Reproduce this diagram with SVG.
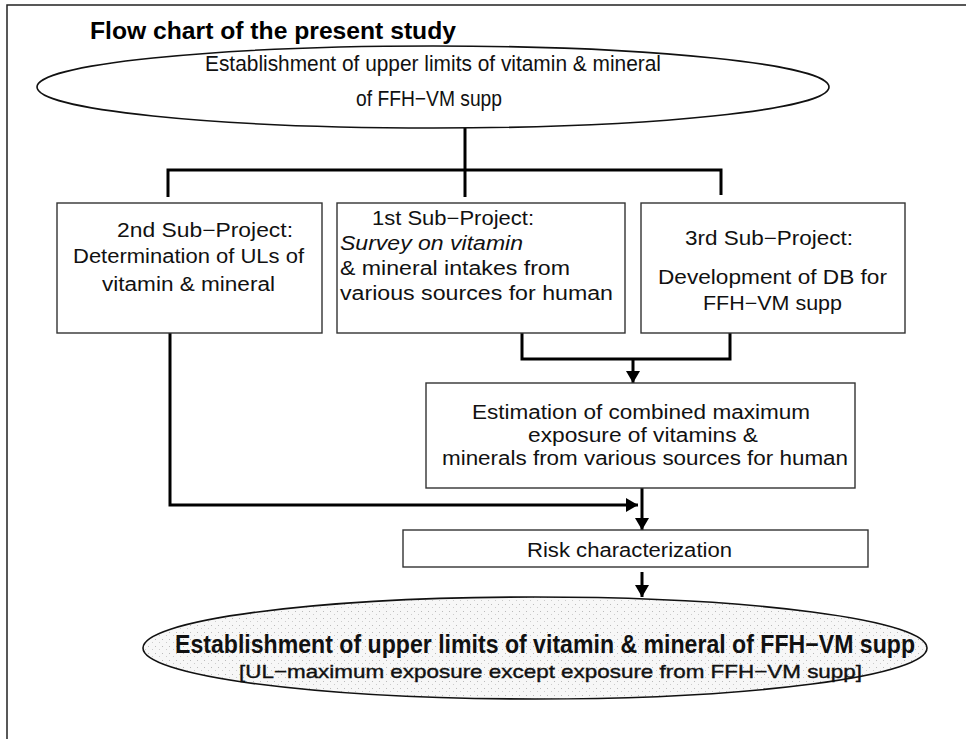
<svg xmlns="http://www.w3.org/2000/svg" width="966" height="739" viewBox="0 0 966 739">
<style>
.frame{stroke:#222;stroke-width:1.5;fill:none}
.box{fill:#fff;stroke:#333;stroke-width:1.4}
.ell{fill:#fff;stroke:#111;stroke-width:1.6}
.conn{fill:none;stroke:#000;stroke-width:3}
.t{font-family:"Liberation Sans","DejaVu Sans",Arial,sans-serif;font-size:20px;fill:#111}
.te{font-family:"Liberation Sans","DejaVu Sans",Arial,sans-serif;font-size:22px;fill:#111}
.ti{font-style:italic}
.title{font-family:"Liberation Sans","DejaVu Sans",Arial,sans-serif;font-size:23px;font-weight:bold;fill:#000}
.big{font-family:"Liberation Sans","DejaVu Sans",Arial,sans-serif;font-size:25px;font-weight:bold;fill:#111}
.sub{font-family:"Liberation Sans","DejaVu Sans",Arial,sans-serif;font-size:19px;fill:#111;stroke:#111;stroke-width:0.4}
</style>
<defs>
<marker id="ah" viewBox="0 0 12 14" refX="12" refY="7" markerWidth="12" markerHeight="14" markerUnits="userSpaceOnUse" orient="auto">
<path d="M0,0 L12,7 L0,14 Z" fill="#000"/>
</marker>
<pattern id="stip" width="7" height="7" patternUnits="userSpaceOnUse">
<rect width="7" height="7" fill="#f7f7f7"/>
<rect x="1" y="2" width="1" height="1" fill="#bbb"/>
<rect x="5" y="5" width="1" height="1" fill="#ccc"/>
</pattern>
</defs>
<g id="frame">
<path class="frame" d="M7,739 L7,5 L966,5"/>
</g>
<g id="title">
<text class="title" x="90" y="39" textLength="366" lengthAdjust="spacingAndGlyphs">Flow chart of the present study</text>
</g>
<g id="connectors">
<path class="conn" d="M465,128 L465,197"/>
<path class="conn" d="M168,197 L168,170 L721,170 L721,195"/>
<path class="conn" d="M522,333 L522,359 L730,359 L730,333"/>
<path class="conn" d="M633,359 L633,383" marker-end="url(#ah)"/>
<path class="conn" d="M170,333 L170,505 L638,505" marker-end="url(#ah)"/>
<path class="conn" d="M642,488 L642,530" marker-end="url(#ah)"/>
<path class="conn" d="M642,572 L642,597" marker-end="url(#ah)"/>
</g>
<g id="goal">
<ellipse class="ell" cx="433" cy="87" rx="396" ry="41"/>
<text class="te" x="433" y="71" text-anchor="middle" textLength="456" lengthAdjust="spacingAndGlyphs">Establishment of upper limits of vitamin &amp; mineral</text>
<text class="te" x="429" y="106" text-anchor="middle" textLength="146" lengthAdjust="spacingAndGlyphs">of FFH−VM supp</text>
</g>
<g id="sub2">
<rect class="box" x="57" y="203" width="265" height="130"/>
<text class="t" x="117" y="237" textLength="176" lengthAdjust="spacingAndGlyphs">2nd Sub−Project:</text>
<text class="t" x="73" y="263" textLength="231" lengthAdjust="spacingAndGlyphs">Determination of ULs of</text>
<text class="t" x="102" y="291" textLength="173" lengthAdjust="spacingAndGlyphs">vitamin &amp; mineral</text>
</g>
<g id="sub1">
<rect class="box" x="337" y="203" width="288" height="130"/>
<text class="t" x="372" y="225" textLength="162" lengthAdjust="spacingAndGlyphs">1st Sub−Project:</text>
<text class="t ti" x="340" y="250" textLength="183" lengthAdjust="spacingAndGlyphs">Survey on vitamin</text>
<text class="t" x="340" y="275" textLength="230" lengthAdjust="spacingAndGlyphs">&amp; mineral intakes from</text>
<text class="t" x="340" y="300" textLength="273" lengthAdjust="spacingAndGlyphs">various sources for human</text>
</g>
<g id="sub3">
<rect class="box" x="641" y="203" width="264" height="130"/>
<text class="t" x="685" y="245" textLength="168" lengthAdjust="spacingAndGlyphs">3rd Sub−Project:</text>
<text class="t" x="658" y="284" textLength="229" lengthAdjust="spacingAndGlyphs">Development of DB for</text>
<text class="t" x="703" y="310" textLength="139" lengthAdjust="spacingAndGlyphs">FFH−VM supp</text>
</g>
<g id="estimation">
<rect class="box" x="426" y="383" width="429" height="105"/>
<text class="t" x="472" y="419" textLength="338" lengthAdjust="spacingAndGlyphs">Estimation of combined maximum</text>
<text class="t" x="528" y="442" textLength="230" lengthAdjust="spacingAndGlyphs">exposure of vitamins &amp;</text>
<text class="t" x="442" y="465" textLength="406" lengthAdjust="spacingAndGlyphs">minerals from various sources for human</text>
</g>
<g id="risk">
<rect class="box" x="403" y="530" width="465" height="37"/>
<text class="t" x="527" y="557" textLength="205" lengthAdjust="spacingAndGlyphs">Risk characterization</text>
</g>
<g id="result">
<ellipse cx="535" cy="648" rx="392" ry="51" fill="url(#stip)" stroke="#111" stroke-width="1.6"/>
<text class="big" x="175" y="653" textLength="740" lengthAdjust="spacingAndGlyphs">Establishment of upper limits of vitamin &amp; mineral of FFH−VM supp</text>
<text class="sub" x="239" y="678" textLength="623" lengthAdjust="spacingAndGlyphs">[UL−maximum exposure except exposure from FFH−VM supp]</text>
</g>
</svg>
